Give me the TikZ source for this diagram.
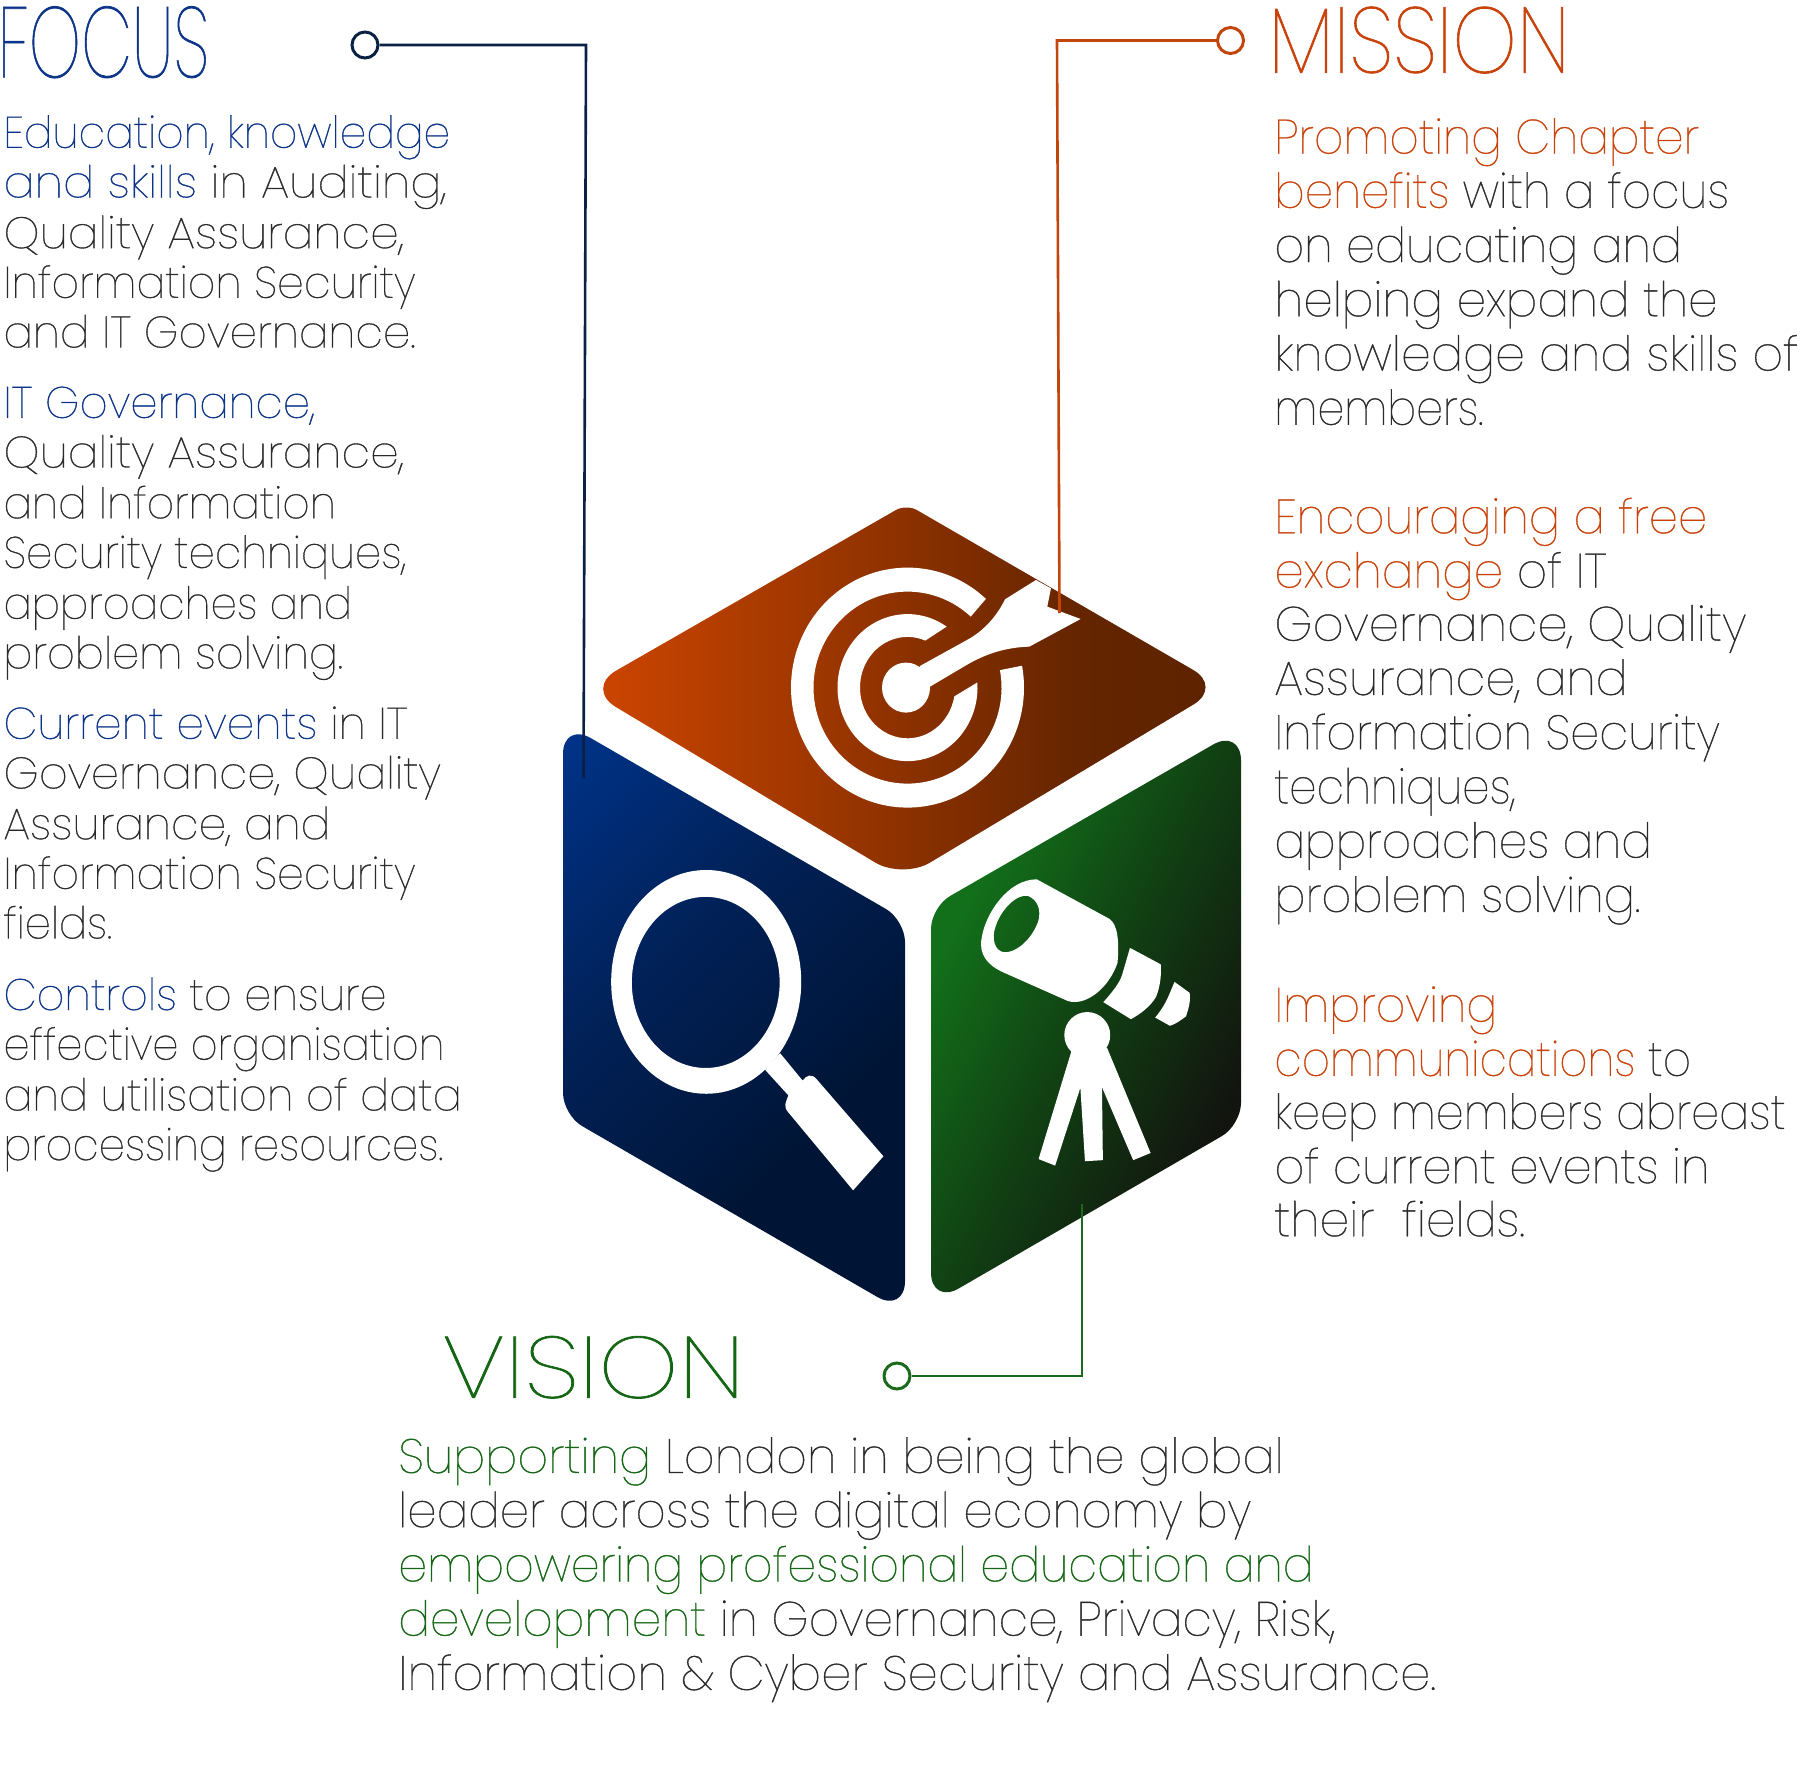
\documentclass[tikz,border=0pt]{standalone}
\usepackage{graphicx}
\usepackage{fontspec}
\newfontfamily\thinf{Poppins Thin}[FakeBold=0.8]
\definecolor{cblue}{HTML}{0C3488}
\definecolor{cgray}{HTML}{2A2A2A}
\definecolor{corange}{HTML}{C8420A}
\definecolor{cgreen}{HTML}{146614}
\definecolor{lnavy}{HTML}{0A2145}
\definecolor{lorange}{HTML}{C2450C}
\definecolor{lgreen}{HTML}{1B6A1B}
\definecolor{fo1}{HTML}{C84400}
\definecolor{fo2}{HTML}{8C3100}
\definecolor{fo3}{HTML}{642500}
\definecolor{fo4}{HTML}{5E2300}
\definecolor{fb1}{HTML}{003389}
\definecolor{fb2}{HTML}{012055}
\definecolor{fb3}{HTML}{001535}
\definecolor{fg1}{HTML}{12701A}
\definecolor{fg2}{HTML}{114013}
\definecolor{fg3}{HTML}{12150F}
\pgfdeclareverticalshading{orangeshade}{100bp}{color(0bp)=(fo4); color(31bp)=(fo4); color(39bp)=(fo3); color(50bp)=(fo2); color(68bp)=(fo1); color(100bp)=(fo1)}
\pgfdeclareverticalshading{blueshade}{100bp}{color(0bp)=(fb3); color(41bp)=(fb3); color(55bp)=(fb2); color(70bp)=(fb1); color(100bp)=(fb1)}
\pgfdeclareverticalshading{greenshade}{100bp}{color(0bp)=(fg3); color(39.6bp)=(fg3); color(50bp)=(fg2); color(60bp)=(fg1); color(100bp)=(fg1)}
\newcommand{\B}[1]{\textcolor{cblue}{#1}}
\newcommand{\Ox}[1]{\textcolor{corange}{#1}}
\newcommand{\Gx}[1]{\textcolor{cgreen}{#1}}
\newcommand{\bodyS}{\thinf\fontsize{44}{50}\selectfont\color{cgray}}
\newcommand{\bodyL}{\thinf\fontsize{48}{54}\selectfont\color{cgray}}
\newcommand{\titleF}[1]{\thinf\fontsize{#1}{#1}\selectfont}
\newsavebox\lbox
% name, x, baseline y, x end (display units), content
\newcommand{\tl}[5]{%
  \node[inner sep=0pt,outer sep=0pt,anchor=base west] (#1) at ({#2*1.1543},{-(#3-1)*1.1543}) {%
    \sbox\lbox{#5}%
    \pgfmathsetmacro\rr{(#4-#2)*1.1543/\the\wd\lbox}%
    \scalebox{\rr}[1]{\usebox\lbox}};%
}
\tikzset{
  dot/.style={circle,draw,line width=3pt,minimum size=26pt,inner sep=0pt,fill=none},
  link/.style={line width=2.6pt},
  icon/.style={fill=white,draw=none},
}
\begin{document}
\begin{tikzpicture}[x=1pt,y=1pt]
\useasboundingbox (0,0) rectangle (1810,-1772);
% --- faces, in pixel coordinates of the reference
\begin{scope}
\clip[rounded corners=12pt] (906.4,-504) [rounded corners=34pt] -- (1222.7,-687) [rounded corners=32pt] -- (902.7,-879) [rounded corners=36pt] -- (585,-688.5) [rounded corners=12pt] -- cycle;
\shade[shading=orangeshade,shading angle=90] (504,-1090) rectangle (1304,-290);
\end{scope}
\begin{scope}
\clip[rounded corners=32pt] (563,-722) [rounded corners=22pt] -- (905,-920) [rounded corners=32pt] -- (905,-1313) [rounded corners=22pt] -- (563,-1115) [rounded corners=32pt] -- cycle;
\shade[shading=blueshade,shading angle=45] (334,-1417) rectangle (1134,-617);
\end{scope}
\begin{scope}
\clip[rounded corners=22pt] (931,-907) [rounded corners=32pt] -- (1241,-728.5) [rounded corners=22pt] -- (1241,-1125) [rounded corners=32pt] -- (931,-1304.5) [rounded corners=22pt] -- cycle;
\shade[shading=greenshade,shading angle=63] (686,-1416) rectangle (1486,-616);
\end{scope}
% --- target icon
\begin{scope}[shift={(907.5,-687.6)}]
\fill[icon] (47.7:116.5pt and 120pt) arc[start angle=47.7,end angle=370.5,x radius=116.5pt,y radius=120pt]
  -- (10.5:94pt and 96pt) arc[start angle=370.5,end angle=47.7,x radius=94pt,y radius=96pt] -- cycle;
\fill[icon] (56:70pt and 73.5pt) arc[start angle=56,end angle=364,x radius=70pt,y radius=73.5pt]
  -- (350:47.5pt and 50.7pt) arc[start angle=350,end angle=68,x radius=47.5pt,y radius=50.7pt] -- cycle;
\fill[icon] (-1.5,0) ellipse[x radius=24pt,y radius=25pt];
\end{scope}
\begin{scope}[shift={(760,-500)},x=0.3333pt,y=-0.3333pt]
\fill[icon] (480,498) -- (630,415) .. controls (680,385) and (715,340) .. (735,298) -- (828,240) -- (873,265) -- (862,320) -- (962,357) -- (808,440) .. controls (740,442) and (680,460) .. (620,495) -- (510,560) -- (470,540) -- cycle;
\end{scope}
% --- magnifier and telescope, in zoom coordinates
\begin{scope}[shift={(540,-480)},x=0.4591pt,y=-0.5485pt]
\fill[icon,even odd rule] (362,915) ellipse[x radius=207,y radius=204] (361,916) ellipse[x radius=161,y radius=156];
\fill[icon] (523,1045) -- (572,1095) .. controls (580,1085) and (592,1082) .. (602,1092) -- (748,1233) -- (682,1295) -- (540,1152) .. controls (530,1142) and (535,1135) .. (541,1122) -- (490,1075) -- cycle;
\fill[icon,even odd rule] (1082,728) -- (1240,800) .. controls (1258,810) and (1262,840) .. (1258,880) .. controls (1240,925) and (1190,960) .. (1150,950) -- (1010,898) .. controls (975,885) and (955,865) .. (962,835) .. controls (970,790) and (1020,728) .. (1082,728) -- cycle
 (1062,758) .. controls (1085,765) and (1092,785) .. (1085,805) .. controls (1070,840) and (1035,862) .. (1012,861) .. controls (990,860) and (983,835) .. (992,815) .. controls (1005,780) and (1040,755) .. (1062,758) -- cycle;
\fill[icon] (1285,853) -- (1352,883) .. controls (1354,905) and (1350,925) .. (1342,942) .. controls (1330,960) and (1305,975) .. (1287,983) -- (1227,952) .. controls (1245,935) and (1262,918) .. (1268,902) -- cycle;
\fill[icon] (1382,915) -- (1415,935) .. controls (1418,950) and (1412,965) .. (1407,978) .. controls (1395,985) and (1385,992) .. (1372,995) -- (1340,980) .. controls (1355,965) and (1365,950) .. (1372,935) -- cycle;
\fill[icon] (1192,1012) ellipse[x radius=50,y radius=42];
\fill[icon] (1158,1040) -- (1086,1238) -- (1122,1250) -- (1177,1108) -- (1187,1242) -- (1226,1240) -- (1224,1107) -- (1292,1240) -- (1330,1227) -- (1235,1035) -- cycle;
\end{scope}
% --- callouts
\node[dot,draw=lnavy] (fdot) at (365,-45) {};
\coordinate (fcorner) at (586,-45);
\coordinate (fend) at (583.5,-778);
\draw[link,draw=lnavy] (fdot) -- (fcorner) -- (fend);
\node[dot,draw=lorange] (mdot) at (1230.5,-40.5) {};
\coordinate (mcorner) at (1057,-40.5);
\coordinate (mend) at (1059.5,-613);
\draw[link,draw=lorange] (mdot) -- (mcorner) -- (mend);
\node[dot,draw=lgreen] (vdot) at (897,-1376) {};
\coordinate (vcorner) at (1082,-1376);
\coordinate (vend) at (1082,-1204);
\draw[link,draw=lgreen] (vdot) -- (vcorner) -- (vend);
% --- titles
\tl{tfocus}{-2}{68}{181}{\titleF{100}\color{cblue}FOCUS}
\tl{tmission}{1099}{64}{1360}{\titleF{93}\color{corange}MISSION}
\tl{tvision}{383}{1212}{645}{\titleF{87}\color{cgreen}VISION}
% --- FOCUS text
\tl{f1}{3}{129}{390}{\bodyS\B{Education, knowledge}}
\tl{f2}{3}{172}{387}{\bodyS\B{and skills} in Auditing,}
\tl{f3}{3}{216}{350}{\bodyS Quality Assurance,}
\tl{f4}{3}{259}{360}{\bodyS Information Security}
\tl{f5}{3}{302}{360}{\bodyS and IT Governance.}
\tl{f6}{3}{363}{273}{\bodyS\B{IT Governance,}}
\tl{f7}{3}{406}{350}{\bodyS Quality Assurance,}
\tl{f8}{3}{450}{291}{\bodyS and Information}
\tl{f9}{3}{493}{352}{\bodyS Security techniques,}
\tl{f10}{3}{537}{305}{\bodyS approaches and}
\tl{f11}{3}{580}{297}{\bodyS problem solving.}
\tl{f12}{3}{641}{353}{\bodyS\B{Current events} in IT}
\tl{f13}{3}{684}{382}{\bodyS Governance, Quality}
\tl{f14}{3}{728}{286}{\bodyS Assurance, and}
\tl{f15}{3}{771}{360}{\bodyS Information Security}
\tl{f16}{3}{814}{97}{\bodyS fields.}
\tl{f17}{3}{876}{335}{\bodyS\B{Controls} to ensure}
\tl{f18}{3}{919}{385}{\bodyS effective organisation}
\tl{f19}{3}{963}{400}{\bodyS and utilisation of data}
\tl{f20}{3}{1006}{384}{\bodyS processing resources.}
% --- MISSION text
\tl{m1}{1104}{134}{1472}{\bodyL\Ox{Promoting Chapter}}
\tl{m2}{1104}{181}{1498}{\bodyL\Ox{benefits} with a focus}
\tl{m3}{1104}{228}{1457}{\bodyL on educating and}
\tl{m4}{1104}{275}{1488}{\bodyL helping expand the}
\tl{m5}{1104}{322}{1558}{\bodyL knowledge and skills of}
\tl{m6}{1104}{369}{1285}{\bodyL members.}
\tl{m7}{1104}{463}{1479}{\bodyL\Ox{Encouraging a free}}
\tl{m8}{1104}{510}{1392}{\bodyL\Ox{exchange} of IT}
\tl{m9}{1104}{556}{1513}{\bodyL Governance, Quality}
\tl{m10}{1104}{603}{1410}{\bodyL Assurance, and}
\tl{m11}{1104}{650}{1490}{\bodyL Information Security}
\tl{m12}{1104}{697}{1313}{\bodyL techniques,}
\tl{m13}{1104}{744}{1431}{\bodyL approaches and}
\tl{m14}{1104}{791}{1421}{\bodyL problem solving.}
\tl{m15}{1104}{886}{1297}{\bodyL\Ox{Improving}}
\tl{m16}{1104}{933}{1465}{\bodyL\Ox{communications} to}
\tl{m17}{1104}{979}{1547}{\bodyL keep members abreast}
\tl{m18}{1104}{1026}{1481}{\bodyL of current events in}
\tl{m19}{1104}{1072}{1321}{\bodyL their\ \ fields.}
% --- VISION text
\tl{v1}{345}{1277}{1112}{\bodyL\Gx{Supporting} London in being the global}
\tl{v2}{345}{1324}{1084}{\bodyL leader across the digital economy by}
\tl{v3}{345}{1371}{1138}{\bodyL\Gx{empowering professional education and}}
\tl{v4}{345}{1418}{1157}{\bodyL\Gx{development} in Governance, Privacy, Risk,}
\tl{v5}{345}{1465}{1244}{\bodyL Information \& Cyber Security and Assurance.}
\end{tikzpicture}
\end{document}
